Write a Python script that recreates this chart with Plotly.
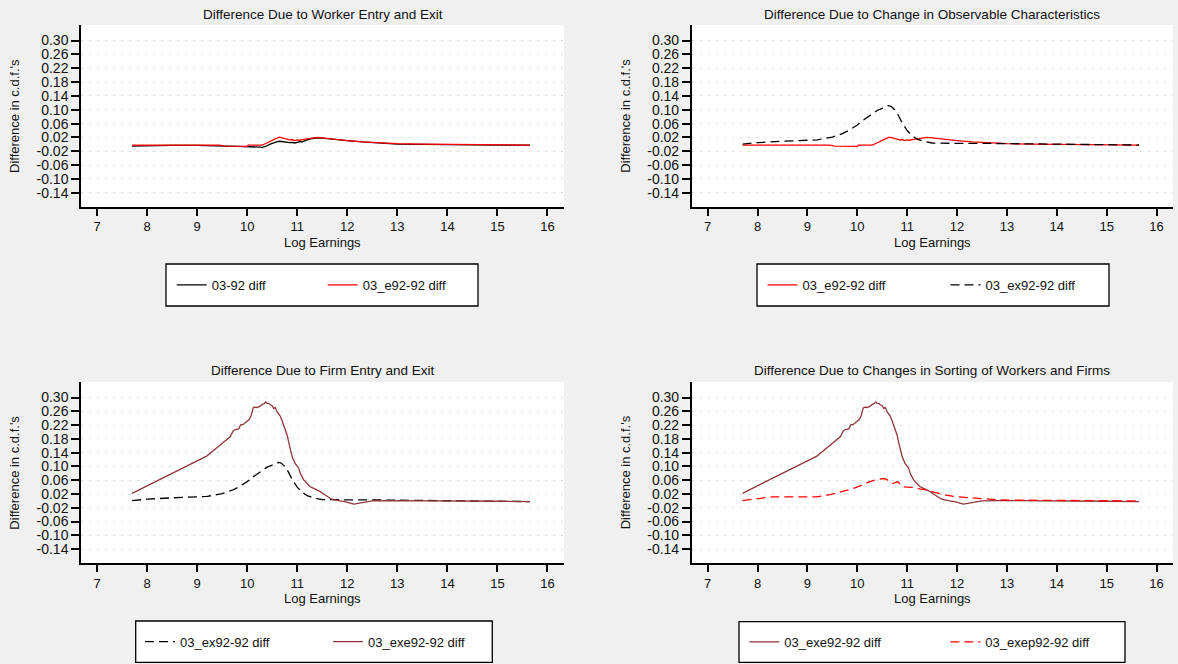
import plotly.graph_objects as go

W, H = 1178, 664

# ---------------- data ----------------
x_total = [7.70, 8.0, 8.5, 9.0, 9.45, 9.55, 9.8, 10.0, 10.1, 10.2, 10.27, 10.3, 10.35, 10.4, 10.45, 10.5,
           10.55, 10.6, 10.65, 10.7, 10.75, 10.8, 10.85, 10.9, 10.95, 11.0, 11.05, 11.1, 11.15, 11.2, 11.3,
           11.4, 11.5, 11.6, 11.8, 12.0, 12.3, 12.6, 13.0, 13.5, 14.0, 14.5, 15.0, 15.65]
y_total = [-0.005, -0.004, -0.003, -0.003, -0.003, -0.005, -0.006, -0.006, -0.007, -0.008, -0.008, -0.009,
           -0.007, -0.004, 0.000, 0.003, 0.006, 0.008, 0.009, 0.008, 0.006, 0.007, 0.005, 0.006, 0.004, 0.006,
           0.008, 0.007, 0.011, 0.013, 0.017, 0.019, 0.018, 0.017, 0.014, 0.011, 0.007, 0.004, 0.001, 0.000,
           -0.001, -0.001, -0.002, -0.002]

x_e = [7.70, 8.0, 8.5, 9.0, 9.45, 9.55, 9.8, 10.0, 10.02, 10.3, 10.35, 10.4, 10.45, 10.5, 10.55, 10.6, 10.65,
       10.7, 10.75, 10.8, 10.85, 10.9, 10.95, 11.0, 11.05, 11.1, 11.2, 11.3, 11.4, 11.5, 11.6, 11.8, 12.0, 12.3,
       12.6, 13.0, 13.5, 14.0, 14.5, 15.0, 15.65]
y_e = [-0.002, -0.002, -0.002, -0.002, -0.002, -0.005, -0.006, -0.006, -0.002, -0.002, 0.001, 0.005, 0.008,
       0.011, 0.015, 0.018, 0.021, 0.019, 0.017, 0.015, 0.013, 0.014, 0.011, 0.013, 0.012, 0.014, 0.016, 0.018,
       0.020, 0.019, 0.017, 0.014, 0.011, 0.007, 0.004, 0.002, 0.001, 0.000, -0.001, -0.002, -0.002]

x_ex = [7.70, 8.0, 8.5, 9.0, 9.2, 9.5, 9.7, 9.85, 10.0, 10.1, 10.2, 10.3, 10.4, 10.5, 10.55, 10.62, 10.68,
        10.75, 10.82, 10.9, 11.0, 11.1, 11.2, 11.35, 11.5, 11.7, 12.0, 12.5, 13.0, 13.5, 14.0, 14.5, 15.0, 15.65]
y_ex = [0.001, 0.005, 0.009, 0.012, 0.013, 0.021, 0.031, 0.042, 0.056, 0.068, 0.078, 0.089, 0.098, 0.104,
        0.107, 0.112, 0.110, 0.100, 0.085, 0.062, 0.040, 0.025, 0.015, 0.008, 0.004, 0.003, 0.003, 0.003,
        0.002, 0.001, 0.000, 0.000, -0.001, -0.002]

x_exe = [7.70, 8.2, 8.7, 9.19, 9.4, 9.6, 9.66, 9.72, 9.76, 9.83, 9.87, 9.92, 9.99, 10.04, 10.08, 10.12, 10.15,
         10.2, 10.26, 10.3, 10.34, 10.37, 10.4, 10.43, 10.46, 10.5, 10.53, 10.56, 10.6, 10.63, 10.66, 10.7,
         10.73, 10.76, 10.8, 10.83, 10.86, 10.9, 10.93, 10.96, 11.0, 11.03, 11.06, 11.1, 11.13, 11.2, 11.26,
         11.35, 11.46, 11.55, 11.69, 11.85, 11.95, 12.13, 12.3, 12.5, 12.8, 13.2, 13.8, 14.5, 15.0, 15.65]
y_exe = [0.022, 0.059, 0.095, 0.130, 0.155, 0.178, 0.186, 0.203, 0.207, 0.209, 0.221, 0.222, 0.229, 0.236,
         0.248, 0.270, 0.272, 0.271, 0.275, 0.280, 0.282, 0.287, 0.283, 0.283, 0.279, 0.276, 0.268, 0.271,
         0.258, 0.252, 0.246, 0.232, 0.221, 0.210, 0.190, 0.170, 0.150, 0.128, 0.118, 0.108, 0.101, 0.095,
         0.080, 0.071, 0.061, 0.050, 0.041, 0.035, 0.027, 0.018, 0.005, 0.000, -0.002, -0.009, -0.004, 0.000,
         0.001, 0.001, 0.001, 0.000, -0.001, -0.002]

x_exep = [7.70, 8.0, 8.3, 8.8, 9.18, 9.45, 9.71, 9.85, 9.98, 10.1, 10.25, 10.35, 10.45, 10.52, 10.58, 10.65,
          10.71, 10.76, 10.81, 10.86, 10.91, 11.0, 11.11, 11.25, 11.38, 11.55, 11.78, 12.0, 12.31, 12.6, 12.85,
          13.3, 14.0, 14.85, 15.65]
y_exep = [0.001, 0.007, 0.012, 0.012, 0.012, 0.018, 0.027, 0.033, 0.039, 0.047, 0.056, 0.060, 0.063, 0.065,
          0.063, 0.057, 0.051, 0.053, 0.056, 0.048, 0.041, 0.040, 0.039, 0.035, 0.032, 0.025, 0.017, 0.012,
          0.008, 0.005, 0.003, 0.002, 0.001, 0.001, 0.000]

x_ticks = [7, 8, 9, 10, 11, 12, 13, 14, 15, 16]
y_ticks = [0.30, 0.26, 0.22, 0.18, 0.14, 0.10, 0.06, 0.02, -0.02, -0.06, -0.10, -0.14]
y_ticklabels = ["0.30", "0.26", "0.22", "0.18", "0.14", "0.10", "0.06", "0.02",
                "-0.02", "-0.06", "-0.10", "-0.14"]

panel_titles = ["Difference Due to Worker Entry and Exit",
                "Difference Due to Change in Observable Characteristics",
                "Difference Due to Firm Entry and Exit",
                "Difference Due to Changes in Sorting of Workers and Firms"]
x_title = "Log Earnings"
y_title = "Difference in c.d.f.'s"

# ---------------- styling ----------------
FONT = "Liberation Sans, Arial, sans-serif"
TXT = "#111111"
BLACK = "#000000"
RED = "#ff0000"
MAROON = "#90353b"
DASH = "9px,5px"

series = {
    "03-92 diff": (x_total, y_total, BLACK, "solid"),
    "03_e92-92 diff": (x_e, y_e, RED, "solid"),
    "03_ex92-92 diff": (x_ex, y_ex, BLACK, DASH),
    "03_exe92-92 diff": (x_exe, y_exe, MAROON, "solid"),
    "03_exep92-92 diff": (x_exep, y_exep, RED, DASH),
}

# panel pixel boxes: (left, top, right, bottom)
panels = [(81, 25, 564, 207), (691.7, 25, 1173, 207),
          (81, 382, 564, 563.3), (691.7, 382, 1173, 563.3)]
panel_series = [["03-92 diff", "03_e92-92 diff"],
                ["03_e92-92 diff", "03_ex92-92 diff"],
                ["03_ex92-92 diff", "03_exe92-92 diff"],
                ["03_exe92-92 diff", "03_exep92-92 diff"]]
# legend box (left, top, right, bottom), first item start, entry width
legend_boxes = [(166, 264, 478, 306), (757, 264, 1109, 306),
                (135.7, 621, 492.3, 662.3), (739, 621.7, 1125, 662.3)]
legend_start = [171.7, 762.5, 140, 744.3]
legend_entry = [106, 138, 143, 156]

def fx(px):
    return px / W

def fy(py):
    return 1 - py / H

fig = go.Figure()
layout = dict(
    width=W, height=H, margin=dict(l=0, r=0, t=0, b=0),
    paper_bgcolor="#f0f0f0", plot_bgcolor="#ffffff",
    font=dict(family=FONT, size=13, color=TXT),
    showlegend=True, annotations=[], shapes=[],
)

for i, (l, t, r, b) in enumerate(panels):
    k = "" if i == 0 else str(i + 1)
    leg = "legend" if i == 0 else f"legend{i + 1}"
    for name in panel_series[i]:
        xs, ys, col, dash = series[name]
        fig.add_trace(go.Scatter(
            x=xs, y=ys, mode="lines", name=name,
            line=dict(color=col, width=1.3, dash=dash),
            xaxis="x" + k, yaxis="y" + k, legend=leg, hoverinfo="skip"))
    layout["xaxis" + k] = dict(
        domain=[fx(l), fx(r)], anchor="y" + k, range=[6.68, 16.33],
        tickvals=x_ticks, ticks="outside", ticklen=7, tickwidth=1.5, tickcolor=BLACK,
        showline=True, linecolor=BLACK, linewidth=1.5, showgrid=False, zeroline=False,
        tickfont=dict(size=13, color=TXT), fixedrange=True)
    layout["yaxis" + k] = dict(
        domain=[fy(b), fy(t)], anchor="x" + k, range=[-0.181, 0.345],
        tickvals=y_ticks, ticktext=y_ticklabels, ticks="outside", ticklen=8, tickwidth=1.5,
        tickcolor=BLACK, showline=True, linecolor=BLACK, linewidth=1.5,
        showgrid=True, gridcolor="#d9d9d9", gridwidth=1, griddash="2px,6px", zeroline=False,
        tickfont=dict(size=14, color=TXT), fixedrange=True)
    cx = (l + r) / 2
    layout["annotations"] += [
        dict(text=panel_titles[i], x=fx(cx), y=fy(t - 11), xref="paper", yref="paper",
             showarrow=False, xanchor="center", yanchor="middle", font=dict(size=13.5, color=TXT)),
        dict(text=x_title, x=fx(cx), y=fy(b + 35), xref="paper", yref="paper",
             showarrow=False, xanchor="center", yanchor="middle", font=dict(size=13, color=TXT)),
        dict(text=y_title, x=fx(l - 66), y=fy((t + b) / 2), xref="paper", yref="paper",
             showarrow=False, xanchor="center", yanchor="middle", textangle=-90,
             font=dict(size=13, color=TXT)),
    ]
    bl, bt, br, bb = legend_boxes[i]
    layout["shapes"].append(dict(type="rect", xref="paper", yref="paper",
                                 x0=fx(bl), x1=fx(br), y0=fy(bb), y1=fy(bt),
                                 line=dict(color="#000000", width=1.3), fillcolor="#ffffff", layer="below"))
    layout[leg] = dict(orientation="h", xanchor="left", yanchor="middle",
                       x=fx(legend_start[i]), y=fy((bt + bb) / 2),
                       bgcolor="rgba(0,0,0,0)", borderwidth=0,
                       entrywidth=legend_entry[i], entrywidthmode="pixels",
                       font=dict(size=13, color=TXT), traceorder="normal",
                       itemclick=False, itemdoubleclick=False)

fig.update_layout(**layout)
fig.write_html("out.html", config={"displayModeBar": False},
               post_script="document.body.style.margin='0';document.body.style.overflow='hidden';")
